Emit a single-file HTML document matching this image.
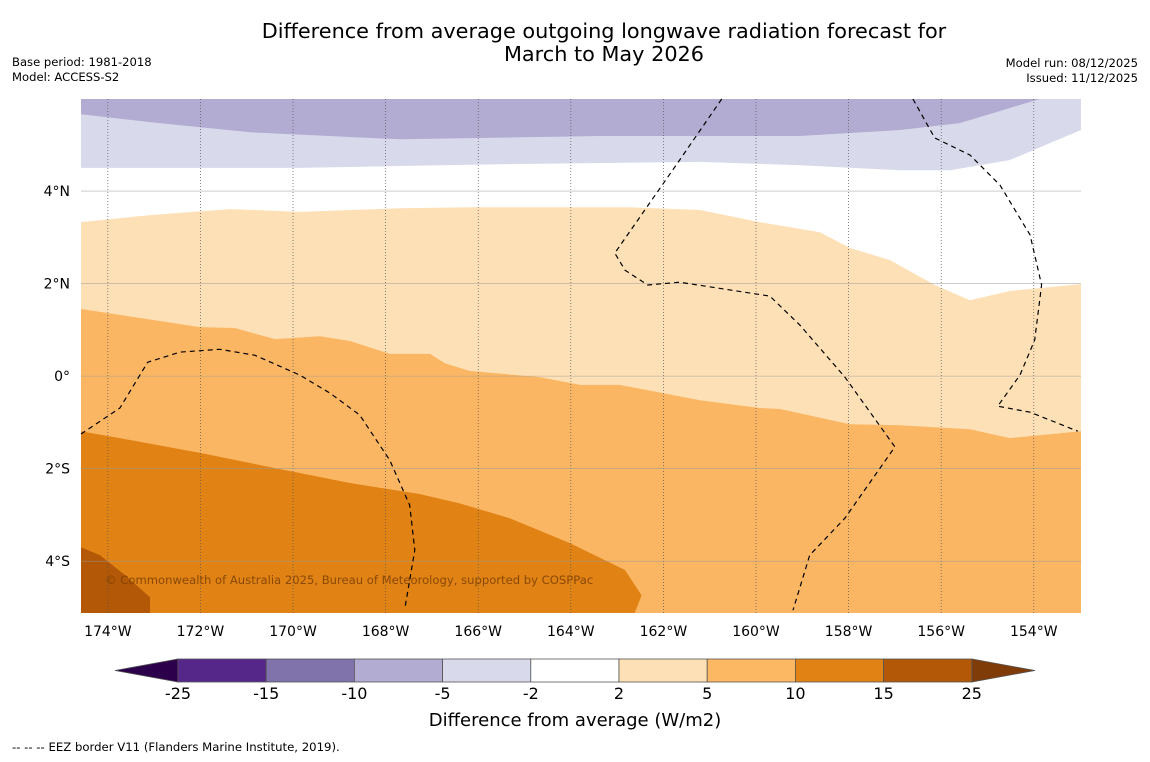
<!DOCTYPE html>
<html><head><meta charset="utf-8"><style>
body{margin:0;background:#fff;width:1150px;height:758px;overflow:hidden;font-family:"DejaVu Sans","Liberation Sans",sans-serif;}
</style></head><body>
<svg id="chart" width="1150" height="758" xmlns="http://www.w3.org/2000/svg" font-family="DejaVu Sans, Liberation Sans, sans-serif">
<rect width="1150" height="758" fill="#fff"/>
<text x="604" y="38" font-size="20.8" text-anchor="middle">Difference from average outgoing longwave radiation forecast for</text>
<text x="604" y="61" font-size="20.8" text-anchor="middle">March to May 2026</text>
<text x="12" y="66" font-size="11.6">Base period: 1981-2018</text>
<text x="12" y="81" font-size="11.6">Model: ACCESS-S2</text>
<text x="1138" y="67" font-size="11.6" text-anchor="end">Model run: 08/12/2025</text>
<text x="1138" y="82" font-size="11.6" text-anchor="end">Issued: 11/12/2025</text>
<g id="map"></g>
<g id="cbar"></g>
<text x="575" y="726" font-size="18" text-anchor="middle">Difference from average (W/m2)</text>
<text x="12" y="751" font-size="11.7">--  --  -- EEZ border V11 (Flanders Marine Institute, 2019).</text>
</svg>
<script>
const lonTicks=[-174,-172,-170,-168,-166,-164,-162,-160,-158,-156,-154];
const latTicks=[4,2,0,-2,-4];
const purpleDarkEdge=[[-174.58,5.66],[-173.09,5.49],[-170.93,5.27],[-167.69,5.12],[-163.37,5.19],[-159.05,5.19],[-156.89,5.32],[-155.6,5.47],[-153.87,5.99]];
const purpleLightEdge=[[-174.58,4.5],[-169.85,4.5],[-165.53,4.58],[-161.21,4.63],[-159.05,4.56],[-156.89,4.45],[-155.81,4.45],[-154.52,4.67],[-152.98,5.32]];
const orange2Edge=[[-174.58,3.33],[-173.09,3.48],[-171.36,3.61],[-169.85,3.55],[-167.69,3.63],[-166.18,3.65],[-162.72,3.65],[-161.21,3.59],[-159.92,3.33],[-158.62,3.11],[-157.97,2.77],[-157.11,2.51],[-156.14,1.97],[-155.38,1.64],[-154.52,1.84],[-152.98,1.99]];
const orange5Edge=[[-174.58,1.45],[-172.01,1.06],[-171.26,1.04],[-170.39,0.8],[-169.42,0.86],[-168.77,0.76],[-167.91,0.48],[-167.04,0.48],[-166.72,0.28],[-166.18,0.11],[-164.67,-0.02],[-163.8,-0.19],[-162.94,-0.19],[-161.21,-0.52],[-159.92,-0.69],[-159.48,-0.71],[-157.97,-1.04],[-156.89,-1.06],[-155.38,-1.15],[-154.52,-1.34],[-152.98,-1.19]];
const orange10Edge=[[-174.58,-1.19],[-173.52,-1.38],[-172.01,-1.66],[-170.28,-2.01],[-168.77,-2.31],[-167.26,-2.55],[-166.4,-2.75],[-165.32,-3.07],[-164.02,-3.61],[-162.83,-4.19],[-162.47,-4.74],[-162.62,-5.12]];
const orange15Edge=[[-174.58,-3.7],[-174.17,-3.87],[-173.63,-4.3],[-173.09,-4.78],[-173.09,-5.12]];
const eezWest=[[-174.58,-1.25],[-173.74,-0.69],[-173.14,0.3],[-172.44,0.52],[-171.58,0.58],[-170.82,0.45],[-169.85,0.02],[-169.2,-0.37],[-168.56,-0.84],[-167.91,-1.82],[-167.48,-2.79],[-167.37,-3.76],[-167.58,-4.99]];
const eezCentral=[[-160.74,5.99],[-161.65,4.67],[-163.05,2.66],[-162.83,2.29],[-162.34,1.97],[-161.65,2.03],[-159.7,1.73],[-159.05,1.1],[-158.08,-0.02],[-157.0,-1.53],[-158.08,-3.07],[-158.84,-3.87],[-159.2,-5.06]];
const eezEast=[[-156.61,5.99],[-156.14,5.15],[-155.38,4.78],[-154.73,4.13],[-154.08,3.05],[-153.83,1.97],[-153.98,0.78],[-154.3,0.02],[-154.78,-0.65],[-154.08,-0.78],[-153.05,-1.19]];
const cbLevels=[-25,-15,-10,-5,-2,2,5,10,15,25];
const cbColors=["#542788","#8073ac","#b2abd2","#d8daeb","#ffffff","#fee0b6","#fdb863","#e08214","#b35806"];

const LON0=-174.58,LON1=-152.98,LAT0=-5.12,LAT1=5.99,X0=81,X1=1081,Y0=99,Y1=613;
const xs=lon=>X0+(lon-LON0)/(LON1-LON0)*(X1-X0);
const ys=lat=>Y1-(lat-LAT0)/(LAT1-LAT0)*(Y1-Y0);
const NS="http://www.w3.org/2000/svg";
const map=document.getElementById('map');
function mk(tag,attrs,parent){const e=document.createElementNS(NS,tag);for(const k in attrs)e.setAttribute(k,attrs[k]);parent.appendChild(e);return e;}
const pts=a=>a.map(p=>xs(p[0]).toFixed(1)+','+ys(p[1]).toFixed(1));
function poly(edge,extra,fill,name){
  const e=mk('polygon',{points:pts(edge).concat(extra).join(' '),fill:fill},map);
  
  
}
const TL=X0+','+Y0,TR=X1+','+Y0,BL=X0+','+Y1,BR=X1+','+Y1;
poly(purpleLightEdge,[TR,TL],'#d8daeb','region-minus5-minus2');
poly(purpleDarkEdge,[TL],'#b2abd2','region-minus10-minus5');
poly(orange2Edge,[BR,BL],'#fee0b6','region-2-5');
poly(orange5Edge,[BR,BL],'#fbb663','region-5-10');
poly(orange10Edge,[BL],'#e08214','region-10-15');
poly(orange15Edge,[BL],'#b35806','region-15-25');
lonTicks.forEach(l=>{
  const g=mk('line',{x1:xs(l),x2:xs(l),y1:Y0,y2:Y1,stroke:'#555','stroke-width':0.7,'stroke-dasharray':'1,2'},map);
  
  
  const t=mk('text',{x:xs(l),y:636,'font-size':14,'text-anchor':'middle'},map);
  t.textContent=Math.abs(l)+'°W';
  
  
});
latTicks.forEach(l=>{
  const g=mk('line',{x1:X0,x2:X1,y1:ys(l),y2:ys(l),stroke:'#999','stroke-width':0.6,opacity:0.8},map);
  
  
  const t=mk('text',{x:70,y:ys(l)+5,'font-size':14,'text-anchor':'end'},map);
  t.textContent=l===0?'0°':Math.abs(l)+'°'+(l>0?'N':'S');
  
  
});
[eezWest,eezCentral,eezEast].forEach((a,i)=>{
  const e=mk('polyline',{points:pts(a).join(' '),fill:'none',stroke:'#000','stroke-width':1.2,'stroke-dasharray':'5,4'},map);
  
  
});
const cr=mk('text',{x:105,y:584,'font-size':11.6,fill:'#7a3f05','fill-opacity':0.85},map);
cr.textContent='© Commonwealth of Australia 2025, Bureau of Meteorology, supported by COSPPac';


const cb=document.getElementById('cbar');
const CB0=178,CBW=88.2,CY=659,CH=23;
const cx=i=>CB0+i*CBW;
const lt=mk('polygon',{points:`115,${CY+CH/2} ${CB0},${CY} ${CB0},${CY+CH}`,fill:'#2d004b',stroke:'#555','stroke-width':0.8},cb);


const rt=mk('polygon',{points:`1035,${CY+CH/2} ${cx(9)},${CY} ${cx(9)},${CY+CH}`,fill:'#7f3b08',stroke:'#555','stroke-width':0.8},cb);


cbColors.forEach((c,i)=>{
  const r=mk('rect',{x:cx(i),y:CY,width:CBW,height:CH,fill:c,stroke:'#555','stroke-width':0.8},cb);
  
  
});
cbLevels.forEach((v,i)=>{
  const t=mk('text',{x:cx(i),y:699,'font-size':16,'text-anchor':'middle'},cb);
  t.textContent=v;
  
  
});
</script>
</body></html>
